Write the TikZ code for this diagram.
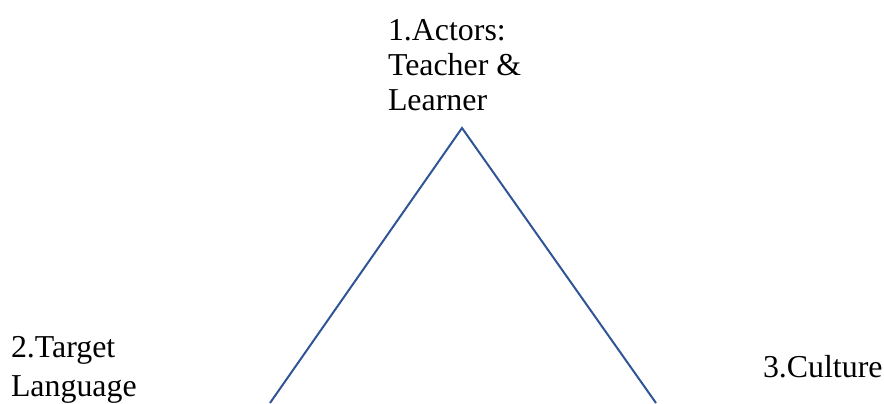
\documentclass[tikz,border=0pt]{standalone}
\usepackage{fontspec}
\setmainfont{LiberationSerif}[Extension=.ttf,UprightFont=*-Regular,BoldFont=*-Bold]
\definecolor{edgeblue}{RGB}{47,85,151}
\tikzset{
  lbl/.style={inner sep=0pt, outer sep=0pt, anchor=base west, align=left, font=\fontsize{32}{35}\selectfont},
  edge/.style={draw=edgeblue, line width=2bp}
}
\begin{document}
\begin{tikzpicture}[x=1bp,y=1bp]
\useasboundingbox (0,0) rectangle (884,403);
\coordinate (apex) at (462,275);
\coordinate (bl) at (270,0);
\coordinate (br) at (656,0);
\draw[edge] (bl) -- (apex) -- (br);
\node[lbl] (actors) at (388,293) {1.Actors:\\Teacher \&\\Learner};
\node[lbl, font=\fontsize{32}{39}\selectfont] (target) at (11,7) {2.Target\\Language};
\node[lbl] (culture) at (763,26) {3.Culture};
\end{tikzpicture}
\end{document}
